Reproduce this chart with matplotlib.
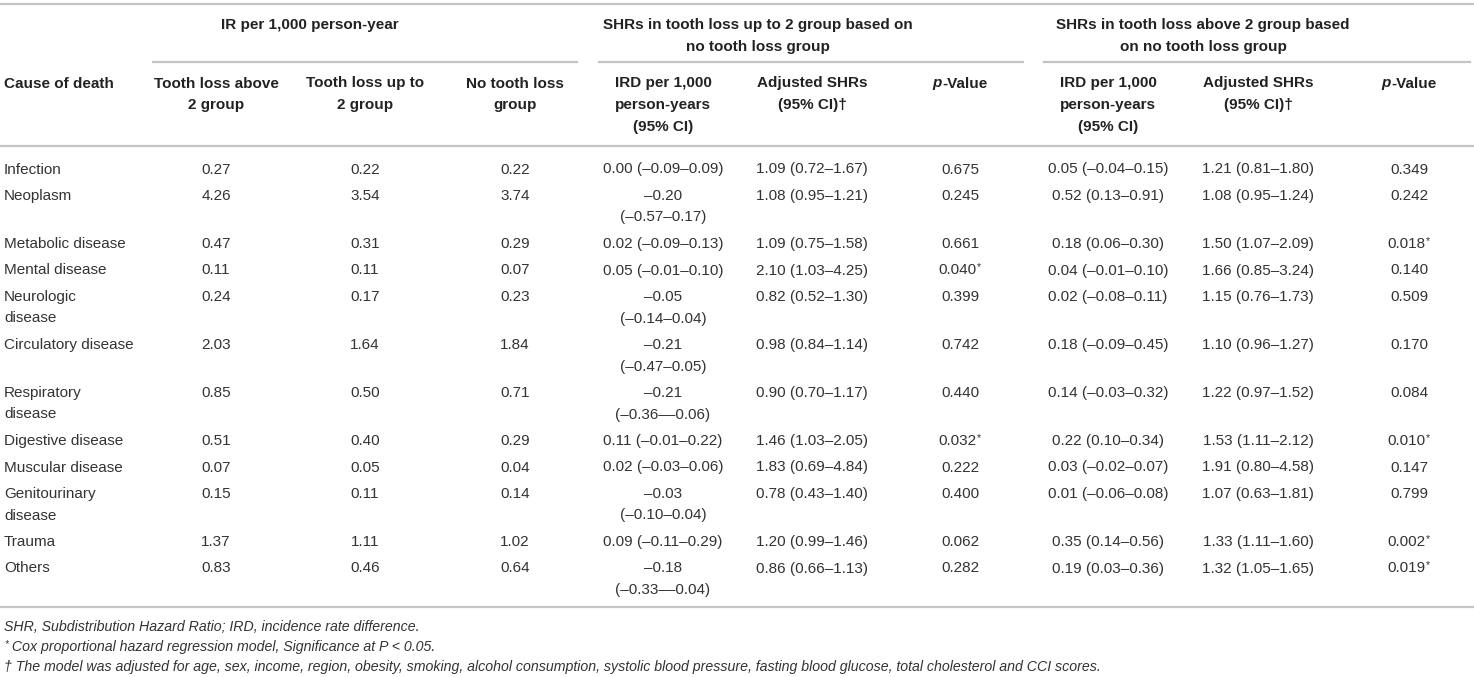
import matplotlib
matplotlib.use("Agg")
import matplotlib.pyplot as plt

plt.rcParams['font.family'] = ['Liberation Sans', 'DejaVu Sans']

# --- table content ---
group_headers = ["IR per 1,000 person-year",
                 "SHRs in tooth loss up to 2 group based on\nno tooth loss group",
                 "SHRs in tooth loss above 2 group based\non no tooth loss group"]

col_headers = ["Tooth loss above\n2 group", "Tooth loss up to\n2 group", "No tooth loss\ngroup",
               "IRD per 1,000\nperson-years\n(95% CI)", "Adjusted SHRs\n(95% CI)\u2020", "p-Value",
               "IRD per 1,000\nperson-years\n(95% CI)", "Adjusted SHRs\n(95% CI)\u2020", "p-Value"]

causes = ["Infection", "Neoplasm", "Metabolic disease", "Mental disease", "Neurologic\ndisease",
          "Circulatory disease", "Respiratory\ndisease", "Digestive disease", "Muscular disease",
          "Genitourinary\ndisease", "Trauma", "Others"]

ir_above = ["0.27", "4.26", "0.47", "0.11", "0.24", "2.03", "0.85", "0.51", "0.07", "0.15", "1.37", "0.83"]
ir_upto = ["0.22", "3.54", "0.31", "0.11", "0.17", "1.64", "0.50", "0.40", "0.05", "0.11", "1.11", "0.46"]
ir_none = ["0.22", "3.74", "0.29", "0.07", "0.23", "1.84", "0.71", "0.29", "0.04", "0.14", "1.02", "0.64"]

ird_upto = ["0.00 (\u20130.09\u20130.09)", "\u20130.20\n(\u20130.57\u20130.17)", "0.02 (\u20130.09\u20130.13)",
            "0.05 (\u20130.01\u20130.10)", "\u20130.05\n(\u20130.14\u20130.04)", "\u20130.21\n(\u20130.47\u20130.05)",
            "\u20130.21\n(\u20130.36\u2013\u20130.06)", "0.11 (\u20130.01\u20130.22)", "0.02 (\u20130.03\u20130.06)",
            "\u20130.03\n(\u20130.10\u20130.04)", "0.09 (\u20130.11\u20130.29)", "\u20130.18\n(\u20130.33\u2013\u20130.04)"]
shr_upto = ["1.09 (0.72\u20131.67)", "1.08 (0.95\u20131.21)", "1.09 (0.75\u20131.58)", "2.10 (1.03\u20134.25)",
            "0.82 (0.52\u20131.30)", "0.98 (0.84\u20131.14)", "0.90 (0.70\u20131.17)", "1.46 (1.03\u20132.05)",
            "1.83 (0.69\u20134.84)", "0.78 (0.43\u20131.40)", "1.20 (0.99\u20131.46)", "0.86 (0.66\u20131.13)"]
p_upto = ["0.675", "0.245", "0.661", "0.040*", "0.399", "0.742", "0.440", "0.032*", "0.222", "0.400", "0.062", "0.282"]

ird_above = ["0.05 (\u20130.04\u20130.15)", "0.52 (0.13\u20130.91)", "0.18 (0.06\u20130.30)", "0.04 (\u20130.01\u20130.10)",
             "0.02 (\u20130.08\u20130.11)", "0.18 (\u20130.09\u20130.45)", "0.14 (\u20130.03\u20130.32)",
             "0.22 (0.10\u20130.34)", "0.03 (\u20130.02\u20130.07)", "0.01 (\u20130.06\u20130.08)",
             "0.35 (0.14\u20130.56)", "0.19 (0.03\u20130.36)"]
shr_above = ["1.21 (0.81\u20131.80)", "1.08 (0.95\u20131.24)", "1.50 (1.07\u20132.09)", "1.66 (0.85\u20133.24)",
             "1.15 (0.76\u20131.73)", "1.10 (0.96\u20131.27)", "1.22 (0.97\u20131.52)", "1.53 (1.11\u20132.12)",
             "1.91 (0.80\u20134.58)", "1.07 (0.63\u20131.81)", "1.33 (1.11\u20131.60)", "1.32 (1.05\u20131.65)"]
p_above = ["0.349", "0.242", "0.018*", "0.140", "0.509", "0.170", "0.084", "0.010*", "0.147", "0.799", "0.002*", "0.019*"]

footnotes = ["SHR, Subdistribution Hazard Ratio; IRD, incidence rate difference.",
             "* Cox proportional hazard regression model, Significance at P < 0.05.",
             "\u2020 The model was adjusted for age, sex, income, region, obesity, smoking, alcohol consumption, "
             "systolic blood pressure, fasting blood glucose, total cholesterol and CCI scores."]

columns = [ir_above, ir_upto, ir_none, ird_upto, shr_upto, p_upto, ird_above, shr_above, p_above]

# --- layout (pixels) ---
W, H = 1474, 677
col_x = [216, 365, 515, 663, 812, 960, 1108, 1258, 1409]
group_x = [310, 758, 1203]
group_spans = [(153, 577), (599, 1023), (1044, 1470)]
rule_color = "#c4c4c4"
head_color = "#222222"
body_color = "#333333"
line_gap = 21.5
base_off = 5.5  # centre of caps -> baseline

fig = plt.figure(figsize=(W / 100, H / 100), dpi=100)
ax = fig.add_axes([0, 0, 1, 1])
ax.set_xlim(0, W)
ax.set_ylim(H, 0)
ax.axis("off")
renderer = fig.canvas.get_renderer()


def runs(x, y, parts, ha="center"):
    """Draw text pieces side by side on one baseline; parts = [(text, kwargs, rise)]."""
    texts = []
    cur = 0.0
    for s, kw, rise in parts:
        t = ax.text(cur, y - rise, s, ha="left", va="baseline", **kw)
        w = t.get_window_extent(renderer).width
        texts.append((t, cur, w))
        cur += w
    start = x - cur / 2 if ha == "center" else x
    for t, off, w in texts:
        t.set_x(start + off)


def line_parts(line, size, weight, color, style="normal"):
    kw = dict(fontsize=size, fontweight=weight, color=color, style=style)
    if line == "p-Value":
        return [("p", dict(kw, style="italic"), 0), ("-Value", kw, 0)]
    if line.endswith("*"):
        return [(line[:-1], kw, 0), ("*", dict(kw, fontsize=size * 0.7), 4)]
    if line.startswith("* "):
        return [("*", dict(kw, fontsize=size * 0.7), 4), (line[1:], kw, 0)]
    return [(line, kw, 0)]


def cell(x, y, s, ha="center", size=11, weight="normal", color=body_color):
    for i, line in enumerate(s.split("\n")):
        runs(x, y + i * line_gap + base_off, line_parts(line, size, weight, color), ha=ha)


# rules
ax.plot([0, W], [4, 4], color=rule_color, lw=1.6)
for x0, x1 in group_spans:
    ax.plot([x0, x1], [62, 62], color=rule_color, lw=1.6)
ax.plot([0, W], [146, 146], color=rule_color, lw=1.6)

# group and column headers
for gx, g in zip(group_x, group_headers):
    cell(gx, 24, g, weight="bold", color=head_color)
cell(4, 82, "Cause of death", ha="left", weight="bold", color=head_color)
for cx, h in zip(col_x, col_headers):
    cell(cx, 82, h, weight="bold", color=head_color)

# body rows
y = 168
for r, cause in enumerate(causes):
    n = max([cause.count("\n") + 1] + [c[r].count("\n") + 1 for c in columns])
    cell(4, y, cause, ha="left")
    for cx, col in zip(col_x, columns):
        cell(cx, y, col[r])
    y += 26.5 + (n - 1) * line_gap

ax.plot([0, W], [607, 607], color=rule_color, lw=1.6)

for i, f in enumerate(footnotes):
    runs(4, 626 + i * 20 + 5, line_parts(f, 10.2, "normal", body_color, style="italic"), ha="left")

fig.savefig("out.png", dpi=100)
